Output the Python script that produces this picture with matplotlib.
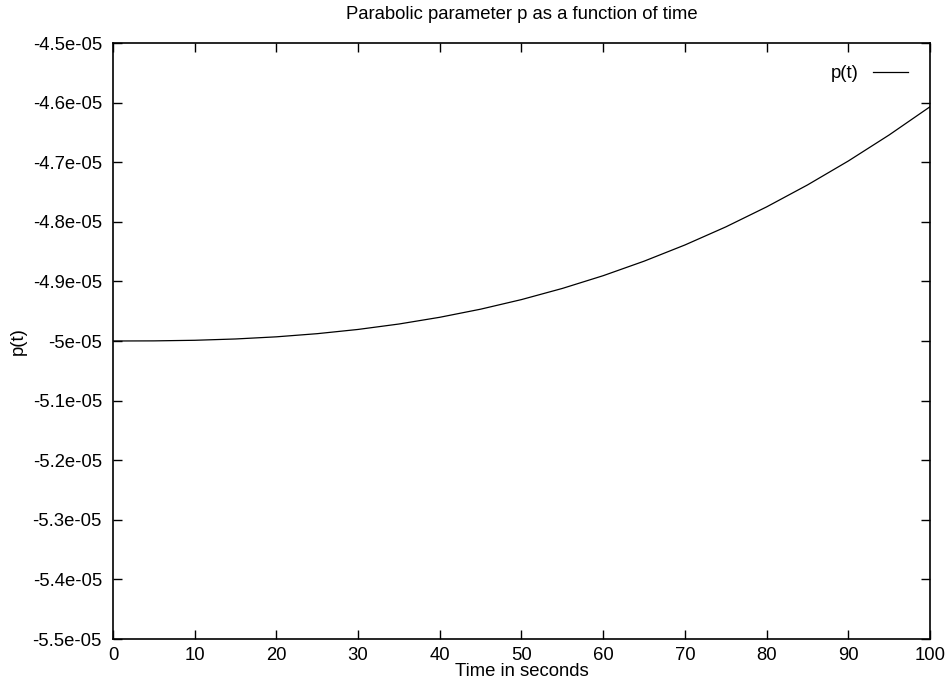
import numpy as np
import matplotlib
matplotlib.use('Agg')
import matplotlib.pyplot as plt

# time samples (s) and p(t)
t = [0, 5, 10, 15, 20, 25, 30, 35, 40, 45, 50,
     55, 60, 65, 70, 75, 80, 85, 90, 95, 100]
p = [-5.0000e-05, -4.9998e-05, -4.9988e-05, -4.9966e-05, -4.9930e-05,
     -4.9877e-05, -4.9806e-05, -4.9715e-05, -4.9602e-05, -4.9466e-05,
     -4.9305e-05, -4.9118e-05, -4.8904e-05, -4.8661e-05, -4.8389e-05,
     -4.8086e-05, -4.7750e-05, -4.7382e-05, -4.6980e-05, -4.6543e-05,
     -4.6070e-05]

xticks = [0, 10, 20, 30, 40, 50, 60, 70, 80, 90, 100]
yticks = [-5.5e-05, -5.4e-05, -5.3e-05, -5.2e-05, -5.1e-05, -5.0e-05,
          -4.9e-05, -4.8e-05, -4.7e-05, -4.6e-05, -4.5e-05]
ytick_labels = ['-5.5e-05', '-5.4e-05', '-5.3e-05', '-5.2e-05', '-5.1e-05',
                '-5e-05', '-4.9e-05', '-4.8e-05', '-4.7e-05', '-4.6e-05',
                '-4.5e-05']

plt.rcParams['font.family'] = ['Liberation Sans', 'DejaVu Sans']
fs = 13.3

fig = plt.figure(figsize=(9.5, 6.89), dpi=100)
ax = fig.add_axes([113 / 950, 1 - 639 / 689, (930 - 113) / 950, (639 - 43) / 689])

ax.plot(t, p, color='black', lw=0.9, label='p(t)')

ax.set_xlim(0, 100)
ax.set_ylim(-5.5e-05, -4.5e-05)
ax.set_xticks(xticks)
ax.set_yticks(yticks)
ax.set_yticklabels(ytick_labels)
ax.tick_params(direction='in', length=6.5, width=1, top=True, right=True,
               labelsize=fs, colors='black')
ax.tick_params(axis='x', pad=6)
ax.tick_params(axis='y', pad=8)
for s in ax.spines.values():
    s.set_linewidth(1.2)

ax.set_title('Parabolic parameter p as a function of time', fontsize=fs, pad=17)
ax.set_xlabel('Time in seconds', fontsize=fs, labelpad=-1)
ax.set_ylabel('p(t)', fontsize=fs, labelpad=4)

ax.legend(loc='upper right', frameon=False, markerfirst=False,
          handlelength=1.9, handletextpad=0.75, borderaxespad=0.8, fontsize=fs)

fig.savefig('out.png', dpi=100)
